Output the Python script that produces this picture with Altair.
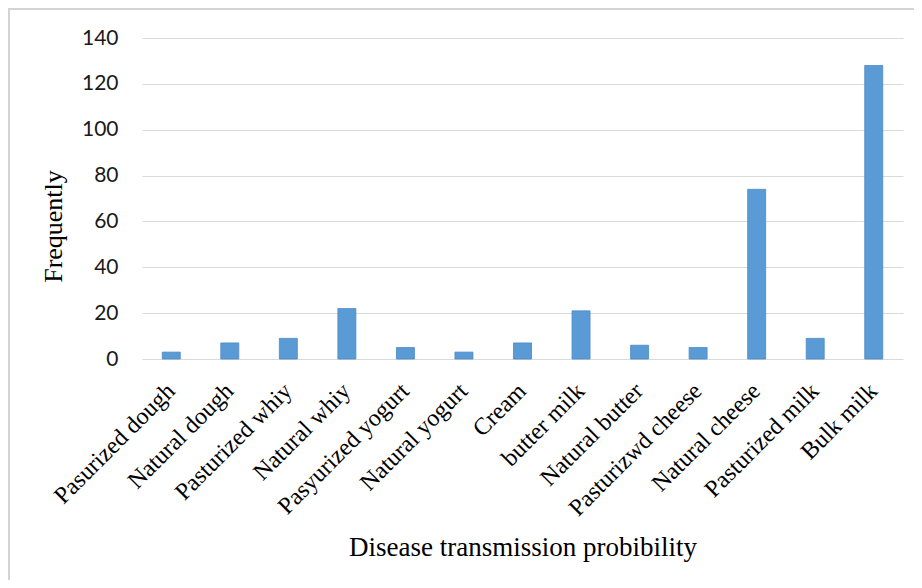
import altair as alt
import pandas as pd

categories = ["Pasurized dough", "Natural dough", "Pasturized whiy", "Natural whiy",
              "Pasyurized yogurt", "Natural yogurt", "Cream", "butter milk",
              "Natural butter", "Pasturizwd cheese", "Natural cheese",
              "Pasturized milk", "Bulk milk"]
values = [3, 7, 9, 22, 5, 3, 7, 21, 6, 5, 74, 9, 128]
y_ticks = [0, 20, 40, 60, 80, 100, 120, 140]

df = pd.DataFrame({"cat": categories, "val": values})

W, H = 761, 321

bars = alt.Chart(df).mark_bar(color="#5b9bd5", stroke="#4a89c6", strokeWidth=0.8).encode(
    x=alt.X("cat:N", sort=categories,
            scale=alt.Scale(paddingInner=0.6925, paddingOuter=0.346),
            axis=alt.Axis(title="Disease transmission probibility",
                          labelAngle=-45, labelAlign="right", labelBaseline="middle",
                          labelPadding=28, ticks=False, domain=False, grid=False,
                          labelFont="Liberation Serif", labelFontSize=24,
                          labelColor="#000000", labelLimit=400,
                          titleFont="Liberation Serif", titleFontSize=27,
                          titleFontWeight="normal", titleColor="#000000",
                          titleBaseline="alphabetic", titleY=196)),
    y=alt.Y("val:Q", scale=alt.Scale(domain=[0, 140], nice=False),
            axis=alt.Axis(title="Frequently", values=y_ticks, ticks=False, domain=False,
                          gridColor="#d9d9d9", gridWidth=1,
                          labelFont="Lato", labelFontSize=21, labelColor="#1a1a1a",
                          labelPadding=24,
                          titleFont="Liberation Serif", titleFontSize=26,
                          titleFontWeight="normal", titleColor="#000000",
                          titlePadding=15, titleY=188)),
)

frame_df = pd.DataFrame({"a": [0]})
top_rule = alt.Chart(frame_df).mark_rule(color="#d4d4d4", strokeWidth=2).encode(
    x=alt.value(-134), x2=alt.value(800), y=alt.value(-29))
left_rule = alt.Chart(frame_df).mark_rule(color="#d4d4d4", strokeWidth=2).encode(
    x=alt.value(-133), y=alt.value(-30), y2=alt.value(600))

chart = alt.layer(bars, top_rule, left_rule).properties(
    width=W, height=H,
    autosize=alt.AutoSizeParams(type="none"),
    padding={"left": 134, "top": 30, "right": 11, "bottom": 221},
    background="#ffffff",
).configure_view(stroke=None)

chart.save("out.html", embed_options={"renderer": "svg", "actions": False})
